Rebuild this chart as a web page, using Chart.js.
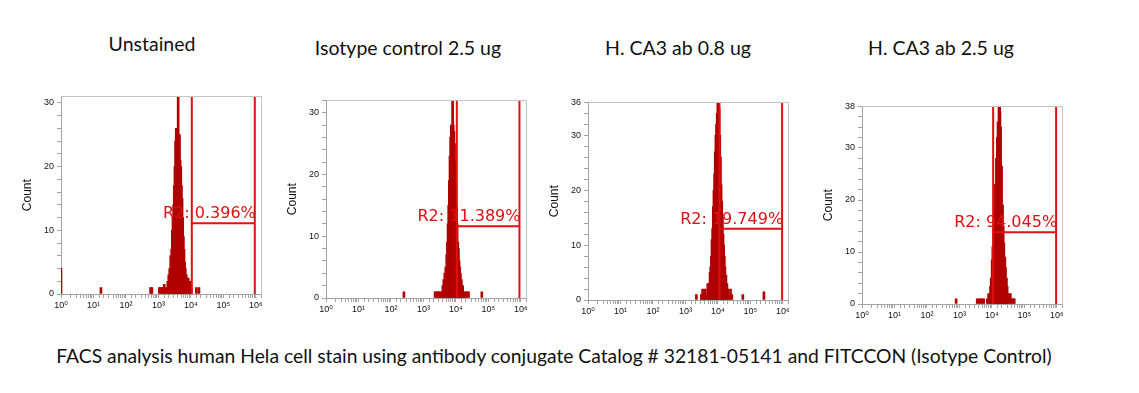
<!DOCTYPE html>
<html><head><meta charset="utf-8">
<script src="https://cdn.jsdelivr.net/npm/chart.js@4.4.0/dist/chart.umd.min.js"></script>
<style>
html,body{margin:0;padding:0;background:#fff;width:1139px;height:393px;overflow:hidden;}
body{position:relative;}
.t{position:absolute;font-family:Lato,"Open Sans",sans-serif;font-size:19.5px;color:#111;white-space:nowrap;transform:translateX(-50%);line-height:1;}
#cap{font-size:19.3px;}
canvas{position:absolute;}
</style></head><body>
<div class="t" id="t0"></div>
<div class="t" id="t1"></div>
<div class="t" id="t2"></div>
<div class="t" id="t3"></div>
<div class="t" id="cap"></div>
<canvas id="c0"></canvas>
<canvas id="c1"></canvas>
<canvas id="c2"></canvas>
<canvas id="c3"></canvas>
<script>
// ---------- text ----------
const panelTitles = ["Unstained", "Isotype control 2.5 ug", "H. CA3 ab 0.8 ug", "H. CA3 ab 2.5 ug"];
const captionText = "FACS analysis human Hela cell stain using antibody conjugate Catalog # 32181-05141 and FITCCON (Isotype Control)";
const xTickLabels = ["10\u2070", "10\u00B9", "10\u00B2", "10\u00B3", "10\u2074", "10\u2075", "10\u2076"];
const yAxisTitle = "Count";

// ---------- histogram data: channel position (log10 of fluorescence) and count ----------
const p1Decades = [0.00, 1.23, 2.76, 2.80, 3.03, 3.07, 3.11, 3.15, 3.18, 3.22, 3.26, 3.29, 3.32, 3.35, 3.38, 3.41, 3.43, 3.45, 3.47, 3.49, 3.51, 3.53, 3.55, 3.57, 3.59, 3.61, 3.63, 3.65, 3.67, 3.69, 3.71, 3.73, 3.75, 3.77, 3.79, 3.81, 3.83, 3.86, 3.89, 3.92, 3.95, 3.98, 4.01, 4.17, 4.25];
const p1Counts  = [4, 1, 1, 1, 1, 1, 1, 1, 1.5, 1, 1, 2, 3, 4, 6, 7, 10, 12, 14, 17, 20, 24, 26, 22, 25, 31, 24, 25, 21, 20, 17, 15, 12, 9, 7, 5, 4, 3, 2, 2.5, 1, 2, 1, 1, 1];

const p2Decades = [2.40, 3.36, 3.40, 3.44, 3.48, 3.52, 3.56, 3.60, 3.63, 3.66, 3.69, 3.72, 3.74, 3.76, 3.78, 3.80, 3.82, 3.84, 3.86, 3.88, 3.90, 3.92, 3.94, 3.96, 3.98, 4.00, 4.02, 4.04, 4.06, 4.08, 4.10, 4.12, 4.14, 4.17, 4.21, 4.25, 4.30, 4.35, 4.39, 4.80];
const p2Counts  = [1, 1, 1, 1, 1, 1, 1, 2, 3, 4, 5, 7, 9, 12, 15, 19, 23, 26, 28, 27, 32, 28, 27, 25, 22, 18, 15, 12, 9, 8, 6, 5, 4, 3, 2, 1, 1, 1, 1, 1];

const p3Decades = [3.34, 3.49, 3.53, 3.57, 3.61, 3.65, 3.69, 3.72, 3.74, 3.76, 3.78, 3.80, 3.82, 3.84, 3.86, 3.88, 3.90, 3.92, 3.94, 3.96, 3.98, 4.00, 4.02, 4.04, 4.06, 4.08, 4.10, 4.12, 4.14, 4.16, 4.18, 4.20, 4.22, 4.25, 4.28, 4.31, 4.35, 4.39, 4.43, 4.77, 5.42];
const p3Counts  = [1, 1, 2, 1, 2, 1, 3, 2, 3, 5, 6, 8, 11, 13, 17, 20, 23, 27, 30, 32, 34, 37, 37, 35, 30, 26, 21, 18, 15, 12, 10, 8, 6, 4.5, 3, 2, 1, 2, 1, 1, 1.5];

const p4Decades = [2.90, 3.55, 3.60, 3.65, 3.70, 3.75, 3.86, 3.90, 3.93, 3.96, 3.98, 4.01, 4.03, 4.06, 4.08, 4.11, 4.14, 4.17, 4.19, 4.22, 4.24, 4.25, 4.27, 4.30, 4.33, 4.35, 4.37, 4.40, 4.42, 4.45, 4.47, 4.50, 4.53, 4.57, 4.61, 4.66, 4.69];
const p4Counts  = [1, 1, 1, 1, 1, 1, 1, 2, 1, 3.4, 5, 8.5, 11, 15, 18, 23, 28, 32, 35, 38, 39, 37, 34, 26.5, 19, 15, 11.7, 9, 7, 5, 3.4, 2, 1, 2, 1, 1, 1];

const histDecades = [p1Decades, p2Decades, p3Decades, p4Decades];
const histCounts  = [p1Counts, p2Counts, p3Counts, p4Counts];

// ---------- axes ----------
const xMin = 1;
const xMax = 1.45e6;
const yMaxes = [31, 32, 36, 38];
const yLabelValues = [[0, 10, 20, 30], [0, 10, 20, 30], [0, 10, 20, 30, 36], [0, 10, 20, 30, 38]];
const yMinorStep = 2;

// ---------- R2 gates (log10 positions) ----------
const gateLowDecade  = [4.03, 4.03, 4.05, 4.04];
const gateHighDecade = [5.97, 5.96, 5.98, 5.98];
const gateLevel      = [11.1, 11.6, 13.0, 13.8];
const gateLabels     = ["R2: 0.396%", "R2: 11.389%", "R2: 19.749%", "R2: 94.045%"];

// ---------- layout ----------
const plotBoxes = [
  {left: 61,  top: 96,  w: 200, h: 198},
  {left: 326, top: 100, w: 200, h: 198},
  {left: 588, top: 102, w: 200, h: 198},
  {left: 862, top: 106, w: 200, h: 198}
];
const titlePos = [{x: 152, y: 34}, {x: 408, y: 38}, {x: 678, y: 38}, {x: 941, y: 38}];
const capPos = {x: 554, y: 346};

const Y_W = 45, X_H = 24, PAD_T = 8, PAD_R = 10;
const AXIS_GRAY = '#a3a3a3';
const HIST_COLOR = '#b00000';
const GATE_COLOR = '#e01010';

panelTitles.forEach((t, i) => {
  const el = document.getElementById('t' + i);
  el.textContent = t;
  el.style.left = titlePos[i].x + 'px';
  el.style.top = titlePos[i].y + 'px';
});
const capEl = document.getElementById('cap');
capEl.textContent = captionText;
capEl.style.left = capPos.x + 'px';
capEl.style.top = capPos.y + 'px';

const framePlugin = {
  id: 'frame',
  afterDraw(chart) {
    const {ctx, chartArea: a} = chart;
    ctx.save();
    ctx.strokeStyle = '#c4c4c4';
    ctx.lineWidth = 1;
    ctx.beginPath();
    ctx.moveTo(Math.round(a.left) + 0.5, Math.round(a.top) + 0.5);
    ctx.lineTo(Math.round(a.right) + 0.5, Math.round(a.top) + 0.5);
    ctx.lineTo(Math.round(a.right) + 0.5, Math.round(a.bottom) + 0.5);
    ctx.stroke();
    ctx.restore();
  }
};

const gateTextPlugin = {
  id: 'gateText',
  afterDatasetsDraw(chart, args, opts) {
    const {ctx, scales} = chart;
    const x = scales.x.getPixelForValue(opts.xValue) + 1;
    const y = scales.y.getPixelForValue(opts.yValue) - 5;
    ctx.save();
    ctx.font = '16px "DejaVu Sans", sans-serif';
    ctx.fillStyle = GATE_COLOR;
    ctx.textAlign = 'right';
    ctx.textBaseline = 'alphabetic';
    ctx.fillText(opts.text, x, y);
    ctx.restore();
  }
};

function isPow10(v) {
  const e = Math.log10(v);
  const r = Math.round(e);
  return Math.abs(e - r) < 1e-6 && r >= 0 && r <= 6 ? r : -1;
}

plotBoxes.forEach((b, i) => {
  const cv = document.getElementById('c' + i);
  const W = Y_W + b.w + PAD_R, H = PAD_T + b.h + X_H;
  cv.width = W; cv.height = H;
  cv.style.width = W + 'px'; cv.style.height = H + 'px';
  cv.style.left = (b.left - Y_W) + 'px';
  cv.style.top = (b.top - PAD_T) + 'px';

  const hist = histDecades[i].map((d, k) => ({x: Math.pow(10, d), y: histCounts[i][k]}));
  const gL = Math.pow(10, gateLowDecade[i]);
  const gH = Math.pow(10, gateHighDecade[i]);
  const ym = yMaxes[i];
  const gate = [
    {x: gL, y: ym}, {x: gL, y: 0}, {x: gL, y: gateLevel[i]},
    {x: gH, y: gateLevel[i]}, {x: gH, y: 0}, {x: gH, y: ym}
  ];

  new Chart(cv, {
    type: 'bar',
    data: {
      datasets: [
        {type: 'bar', data: hist, backgroundColor: HIST_COLOR, borderWidth: 0, barThickness: 2, order: 2},
        {type: 'line', data: gate, borderColor: GATE_COLOR, borderWidth: 2, pointRadius: 0, tension: 0, fill: false, order: 1}
      ]
    },
    options: {
      responsive: false,
      animation: false,
      devicePixelRatio: 1,
      layout: {padding: {top: PAD_T, right: PAD_R, left: 0, bottom: 0}, autoPadding: false},
      plugins: {
        legend: {display: false},
        tooltip: {enabled: false},
        gateText: {text: gateLabels[i], xValue: gH, yValue: gateLevel[i]}
      },
      scales: {
        x: {
          type: 'logarithmic',
          min: xMin, max: xMax,
          offset: false,
          grid: {display: true, drawOnChartArea: false, drawTicks: true, tickLength: 4, color: AXIS_GRAY, offset: false},
          border: {display: true, color: AXIS_GRAY},
          ticks: {
            autoSkip: false, maxRotation: 0, minRotation: 0, padding: 2,
            color: '#111', font: {family: '"Liberation Sans", "DejaVu Sans", sans-serif', size: 9},
            callback: (v) => { const r = isPow10(v); return r >= 0 ? xTickLabels[r] : ''; }
          },
          afterFit: (s) => { s.height = X_H; }
        },
        y: {
          type: 'linear',
          min: 0, max: ym,
          grid: {display: true, drawOnChartArea: false, drawTicks: true, tickLength: 4, color: AXIS_GRAY},
          border: {display: true, color: AXIS_GRAY},
          title: {display: true, text: yAxisTitle, color: '#111', font: {family: '"Liberation Sans", sans-serif', size: 12}},
          ticks: {
            autoSkip: false,
            padding: 3, color: '#111', font: {family: '"Liberation Sans", sans-serif', size: 9},
            callback: (v) => yLabelValues[i].includes(v) ? String(v) : ''
          },
          afterBuildTicks: (s) => {
            const ts = [];
            for (let v = 0; v <= ym + 1e-9; v += yMinorStep) ts.push({value: v});
            s.ticks = ts;
          },
          afterFit: (s) => { s.width = Y_W; }
        }
      }
    },
    plugins: [framePlugin, gateTextPlugin]
  });
});
</script>
</body></html>
